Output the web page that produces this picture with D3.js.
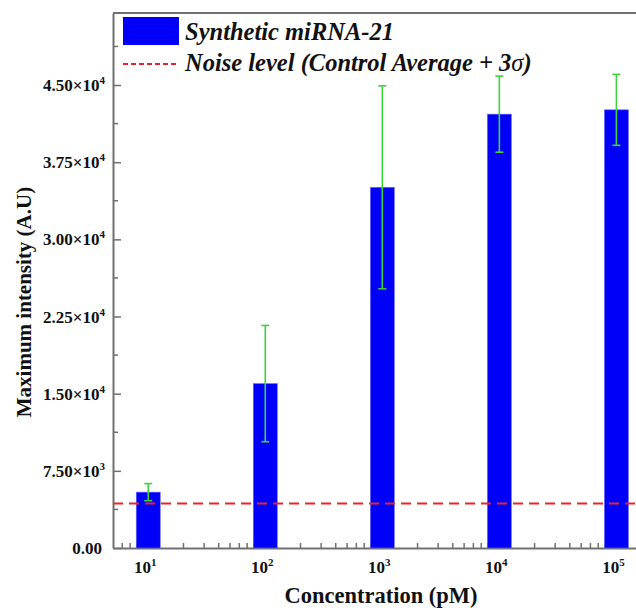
<!DOCTYPE html>
<html>
<head>
<meta charset="utf-8">
<script src="https://cdn.jsdelivr.net/npm/d3@7"></script>
<style>
    body { margin: 0; background: #fff; }
</style>
</head>
<body>
<div id="chart"></div>
<script>
// data
const concentrations = [1e1, 1e2, 1e3, 1e4, 1e5];
const intensities = [5430, 15980, 35060, 42170, 42590];
const errors = [830, 5650, 9860, 3700, 3450];
const noiseLevel = 4320;
const yTicks = [0, 7500, 15000, 22500, 30000, 37500, 45000];
const yTickLabels = ["0.00", "7.50×10|3", "1.50×10|4", "2.25×10|4", "3.00×10|4", "3.75×10|4", "4.50×10|4"];
const xTickExponents = ["1", "2", "3", "4", "5"];
const legendLabels = ["Synthetic miRNA-21", "Noise level (Control Average + 3"];

const width = 636, height = 608;
const plot = { left: 113, right: 637, top: 13, bottom: 548 };
const serif = "'Liberation Serif', 'DejaVu Serif', 'Times New Roman', serif";

const svg = d3.select("#chart")
    .append("svg")
    .attr("width", width)
    .attr("height", height)
    .attr("font-family", serif)
    .attr("font-weight", "bold");

const xScale = d3.scaleLog()
    .domain([5, 1.5e5])
    .range([plot.left, plot.right]);

const yScale = d3.scaleLinear()
    .domain([0, 52000])
    .range([plot.bottom, plot.top]);

const axisColor = "#707070";

// minor ticks
const xMinor = [];
for (let e = 0; e <= 5; e++) {
    for (let k = 2; k <= 9; k++) {
        const v = k * Math.pow(10, e);
        if (v > 5 && v < 1.5e5) xMinor.push(v);
    }
}
const yMinor = d3.range(3750, 52000, 7500);

// frame
svg.append("line")
    .attr("x1", plot.left).attr("x2", plot.right)
    .attr("y1", plot.top).attr("y2", plot.top)
    .attr("stroke", axisColor).attr("stroke-width", 2);

// x axis
const xAxis = svg.append("g")
    .attr("transform", `translate(0,${plot.bottom})`)
    .call(d3.axisBottom(xScale).tickValues(concentrations).tickSizeInner(-9).tickSizeOuter(0).tickFormat(""));
xAxis.select(".domain").attr("stroke", axisColor).attr("stroke-width", 2);
xAxis.selectAll(".tick line").attr("stroke", axisColor).attr("stroke-width", 1.5);

svg.append("g")
    .selectAll("line")
    .data(xMinor)
    .join("line")
    .attr("x1", d => xScale(d)).attr("x2", d => xScale(d))
    .attr("y1", plot.bottom).attr("y2", plot.bottom - 5)
    .attr("stroke", axisColor).attr("stroke-width", 1.5);

const xLabels = svg.append("g")
    .selectAll("text")
    .data(concentrations)
    .join("text")
    .attr("x", d => xScale(d) - 3)
    .attr("y", 573)
    .attr("text-anchor", "middle")
    .style("font-family", serif)
    .style("font-size", "17px")
    .attr("fill", "#111");
xLabels.append("tspan").text("10");
xLabels.append("tspan")
    .attr("dy", -7)
    .style("font-size", "11px")
    .text((d, i) => xTickExponents[i]);

// y axis
const yAxis = svg.append("g")
    .attr("transform", `translate(${plot.left},0)`)
    .call(d3.axisLeft(yScale).tickValues(yTicks).tickSizeInner(-8).tickSizeOuter(0).tickFormat(""));
yAxis.select(".domain").attr("stroke", axisColor).attr("stroke-width", 2);
yAxis.selectAll(".tick line").attr("stroke", axisColor).attr("stroke-width", 1.5);

svg.append("g")
    .selectAll("line")
    .data(yMinor)
    .join("line")
    .attr("x1", plot.left).attr("x2", plot.left + 5)
    .attr("y1", d => yScale(d)).attr("y2", d => yScale(d))
    .attr("stroke", axisColor).attr("stroke-width", 1.5);

const yLabels = svg.append("g")
    .selectAll("text")
    .data(yTicks)
    .join("text")
    .attr("x", 105)
    .attr("y", d => yScale(d) + 6)
    .attr("text-anchor", "end")
    .style("font-family", serif)
    .style("font-size", "17px")
    .attr("fill", "#111");
yLabels.each(function (d, i) {
    const parts = yTickLabels[i].split("|");
    const t = d3.select(this);
    if (parts.length === 1) {
        t.attr("x", 102).text(parts[0]);
        return;
    }
    t.append("tspan").text(parts[0]);
    t.append("tspan").attr("dy", -7).style("font-size", "11px").text(parts[1]);
});

// bars
const barWidth = 24;
svg.append("g")
    .selectAll("rect")
    .data(intensities)
    .join("rect")
    .attr("x", (d, i) => xScale(concentrations[i]) - barWidth / 2)
    .attr("y", d => yScale(d))
    .attr("width", barWidth)
    .attr("height", d => plot.bottom - yScale(d))
    .attr("fill", "#0000f8")
    .attr("stroke", "#6a6aff")
    .attr("stroke-width", 0.6);

// error bars
const errColor = "#3fd23f";
const eb = svg.append("g").attr("stroke", errColor).attr("stroke-width", 1.6);
eb.selectAll(".stem")
    .data(intensities)
    .join("line")
    .attr("x1", (d, i) => xScale(concentrations[i]))
    .attr("x2", (d, i) => xScale(concentrations[i]))
    .attr("y1", (d, i) => yScale(d + errors[i]))
    .attr("y2", (d, i) => yScale(d - errors[i]));
[1, -1].forEach(s => {
    eb.append("g")
        .selectAll("line")
        .data(intensities)
        .join("line")
        .attr("x1", (d, i) => xScale(concentrations[i]) - 4)
        .attr("x2", (d, i) => xScale(concentrations[i]) + 4)
        .attr("y1", (d, i) => yScale(d + s * errors[i]))
        .attr("y2", (d, i) => yScale(d + s * errors[i]));
});

// noise level
svg.append("line")
    .attr("x1", plot.left).attr("x2", plot.right)
    .attr("y1", yScale(noiseLevel)).attr("y2", yScale(noiseLevel))
    .attr("stroke", "#e8242c")
    .attr("stroke-width", 2)
    .attr("stroke-dasharray", "10,6");

// legend
svg.append("rect")
    .attr("x", 123).attr("y", 17)
    .attr("width", 56).attr("height", 28)
    .attr("fill", "#0000f8");
svg.append("line")
    .attr("x1", 123).attr("x2", 179)
    .attr("y1", 64).attr("y2", 64)
    .attr("stroke", "#e8242c")
    .attr("stroke-width", 2)
    .attr("stroke-dasharray", "5,3");
svg.append("text")
    .attr("x", 185).attr("y", 40)
    .attr("fill", "#111")
    .style("font-family", serif)
    .style("font-size", "24.5px").style("font-style", "italic")
    .text(legendLabels[0]);
const noiseText = svg.append("text")
    .attr("x", 185).attr("y", 71)
    .attr("fill", "#111")
    .style("font-family", serif)
    .style("font-size", "24.5px").style("font-style", "italic")
    .text(legendLabels[1]);
noiseText.append("tspan").style("font-weight", "normal").text("σ");
noiseText.append("tspan").text(")");

// axis titles
svg.append("text")
    .attr("x", 381).attr("y", 603)
    .attr("text-anchor", "middle")
    .attr("fill", "#111")
    .style("font-family", serif)
    .style("font-size", "22.5px")
    .text("Concentration (pM)");

svg.append("text")
    .attr("transform", "translate(31,302) rotate(-90)")
    .attr("text-anchor", "middle")
    .attr("fill", "#111")
    .style("font-family", serif)
    .style("font-size", "21px")
    .text("Maximum intensity (A.U)");
</script>
</body>
</html>
